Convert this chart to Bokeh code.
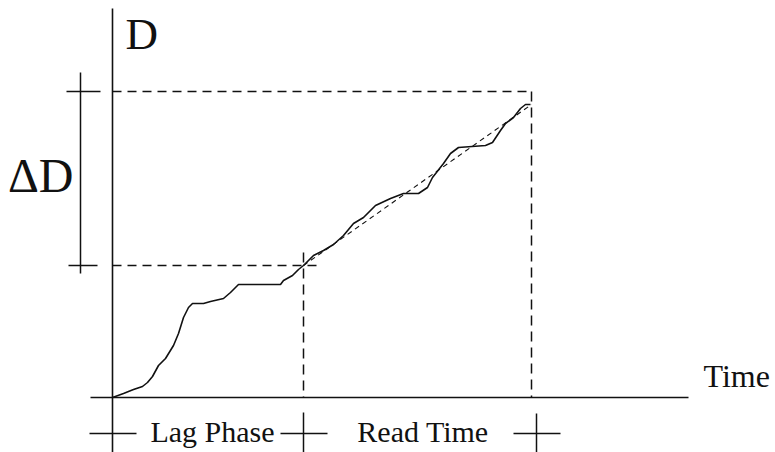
from bokeh.plotting import figure
from bokeh.models import Range1d
from bokeh.core.properties import value
from bokeh.embed import file_html
from bokeh.resources import INLINE

# ---- data (arbitrary schematic units) ----
time = [0, 1.1, 2.1, 3.0, 3.5, 4.0, 4.6, 5.3, 6.1, 6.6, 7.1, 7.6, 8.0, 9.1, 9.8,
        11.1, 11.8, 12.6, 16.8, 17.1, 18.0, 18.6, 19.1, 20.1, 21.1, 22.1, 23.1,
        24.1, 25.1, 26.3, 27.8, 29.1, 30.6, 31.5, 32.0, 33.1, 33.8, 34.6, 37.3,
        38.0, 38.8, 39.3, 40.1, 40.8, 41.3, 41.8]
density = [0, 0.4, 0.8, 1.1, 1.5, 2.1, 3.2, 3.9, 5.2, 6.4, 8.0, 9.0, 9.4, 9.4, 9.6,
           9.9, 10.5, 11.3, 11.3, 11.7, 12.2, 12.8, 13.2, 14.2, 14.7, 15.3, 16.2,
           17.4, 18.0, 19.2, 19.9, 20.4, 20.4, 21.0, 22.0, 23.4, 24.4, 25.0, 25.2,
           25.5, 26.7, 27.4, 28.0, 28.9, 29.3, 29.3]

t_lag = 19.1        # end of lag phase
t_read = 41.9       # end of read time
d_start = 13.2      # D at end of lag phase
d_end = 30.6        # D at end of read time

y_label = "D"
delta_label = "\u0394D"
x_label = "Time"
phase_labels = ["Lag Phase", "Read Time"]

FONT = value("Liberation Serif")
INK = "#111111"

p = figure(width=775, height=452, x_range=Range1d(-11.2, 66.3), y_range=Range1d(-5.5, 39.7),
           x_axis_type=None, y_axis_type=None, output_backend="svg", toolbar_location=None,
           min_border=0, outline_line_color=None, background_fill_color="white",
           border_fill_color="white")
p.grid.visible = False

# axes drawn as lines
p.segment(x0=[0], y0=[38.9], x1=[0], y1=[-6], line_color=INK, line_width=1.6)
p.segment(x0=[-2.2], y0=[0], x1=[57.6], y1=[0], line_color=INK, line_width=1.6)

# dashed reference lines
p.segment(x0=[0, 0], y0=[d_end, d_start], x1=[t_read, t_lag + 1.3], y1=[d_end, d_start],
          line_color=INK, line_width=1.5, line_dash="9 6")
p.segment(x0=[t_lag, t_read], y0=[d_start + 1.3, d_end], x1=[t_lag, t_read], y1=[0, 0],
          line_color=INK, line_width=1.5, line_dash="10 6")
# linear fit over read time (mostly hidden by the curve)
p.segment(x0=[t_lag], y0=[d_start], x1=[t_read], y1=[density[-1]],
          line_color=INK, line_width=1.1, line_dash="5 4")

# the measured curve
p.line(time, density, line_color=INK, line_width=1.6)

# Delta D bracket
p.segment(x0=[-3.2], y0=[d_end + 1.9], x1=[-3.2], y1=[d_start - 0.8], line_color=INK, line_width=1.5)
p.segment(x0=[-4.6, -4.4], y0=[d_end, d_start], x1=[-1.2, -1.5], y1=[d_end, d_start],
          line_color=INK, line_width=1.5)

# bottom phase markers
tick_y = -3.6
marks = [0, t_lag, t_read + 0.5]
p.segment(x0=[m - 2.3 for m in marks], y0=[tick_y] * 3, x1=[m + 2.4 for m in marks], y1=[tick_y] * 3,
          line_color=INK, line_width=1.5)
p.segment(x0=marks[1:], y0=[-1.5, -1.6], x1=marks[1:], y1=[-6, -6], line_color=INK, line_width=1.5)

# texts
p.text(x=[1.3], y=[36.4], text=[y_label], text_font=FONT, text_font_size=value("45px"),
       text_color=INK, text_align="left", text_baseline="alphabetic")
p.text(x=[-3.9], y=[22.2], text=[delta_label], text_font=FONT, text_font_size=value("48px"),
       text_color=INK, text_align="right", text_baseline="alphabetic")
p.text(x=[59.1], y=[2.2], text=[x_label], text_font=FONT, text_font_size=value("32px"),
       text_color=INK, text_align="left", text_baseline="alphabetic")
p.text(x=[10.0, 31.05], y=[-3.4, -3.4], text=phase_labels, text_font=FONT,
       text_font_size=value("30px"), text_color=INK, text_align="center",
       text_baseline="alphabetic")

open("out.html", "w").write(file_html(p, INLINE))
